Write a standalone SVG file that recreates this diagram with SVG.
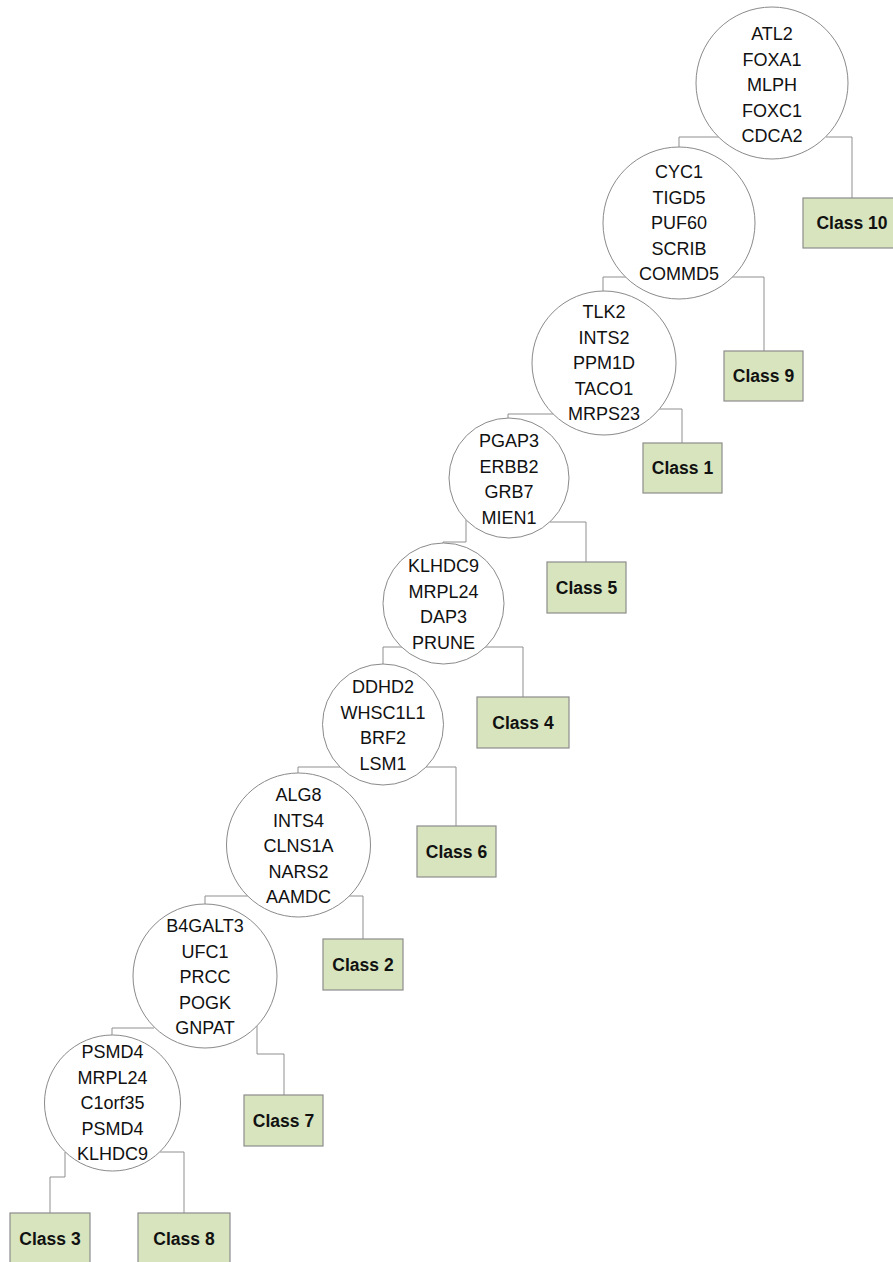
<svg xmlns="http://www.w3.org/2000/svg" width="893" height="1262" viewBox="0 0 893 1262">
  <style>
    .bg { fill: #ffffff; }
    .node circle { fill: #ffffff; stroke: #8a8a8a; stroke-width: 1; }
    .node text { font-family: "Liberation Sans", Arial, sans-serif; font-size: 18px; fill: #111111; text-anchor: middle; }
    .leaf rect { fill: #d7e4bd; stroke: #8c8c8c; stroke-width: 1.2; }
    .leaf text { font-family: "Liberation Sans", Arial, sans-serif; font-size: 17.5px; font-weight: bold; fill: #111111; text-anchor: middle; }
    #connectors path { fill: none; stroke: #8f8f8f; stroke-width: 1; }
  </style>

  <rect class="bg" x="0" y="0" width="893" height="1262"/>

  <!-- connectors: elbow lines from each split node to its children -->
  <g id="connectors">
    <path d="M719,137 H679 V147"/>
    <path d="M826,137 H852 V198"/>
    <path d="M626,277 H603 V291"/>
    <path d="M732,277 H764 V351"/>
    <path d="M553,414 H508 V418"/>
    <path d="M656,409 H682 V443"/>
    <path d="M466,520 V542 H443 V543"/>
    <path d="M550,522 H586 V562"/>
    <path d="M402,647 H383 V664"/>
    <path d="M485,647 H523 V697"/>
    <path d="M341,767 H298 V773"/>
    <path d="M426,767 H456 V826"/>
    <path d="M248,896 H205 V904"/>
    <path d="M349,896 H363 V939"/>
    <path d="M154,1028 H112 V1035"/>
    <path d="M257,1026 V1054 H284 V1095"/>
    <path d="M65,1152 V1177 H50 V1213"/>
    <path d="M160,1152 H184 V1213"/>
  </g>

  <!-- split nodes -->
  <g id="n1" class="node">
    <circle cx="772" cy="83" r="76"/>
    <text x="772" y="40">ATL2</text>
    <text x="772" y="65.5">FOXA1</text>
    <text x="772" y="91">MLPH</text>
    <text x="772" y="116.5">FOXC1</text>
    <text x="772" y="142">CDCA2</text>
  </g>
  <g id="n2" class="node">
    <circle cx="679" cy="223" r="76"/>
    <text x="679" y="178">CYC1</text>
    <text x="679" y="203.5">TIGD5</text>
    <text x="679" y="229">PUF60</text>
    <text x="679" y="254.5">SCRIB</text>
    <text x="679" y="280">COMMD5</text>
  </g>
  <g id="n3" class="node">
    <circle cx="604" cy="363" r="72"/>
    <text x="604" y="318">TLK2</text>
    <text x="604" y="343.5">INTS2</text>
    <text x="604" y="369">PPM1D</text>
    <text x="604" y="394.5">TACO1</text>
    <text x="604" y="420">MRPS23</text>
  </g>
  <g id="n4" class="node">
    <circle cx="509" cy="478" r="60"/>
    <text x="509" y="447">PGAP3</text>
    <text x="509" y="472.5">ERBB2</text>
    <text x="509" y="498">GRB7</text>
    <text x="509" y="523.5">MIEN1</text>
  </g>
  <g id="n5" class="node">
    <circle cx="443.5" cy="603.5" r="60.5"/>
    <text x="443.5" y="572">KLHDC9</text>
    <text x="443.5" y="597.5">MRPL24</text>
    <text x="443.5" y="623">DAP3</text>
    <text x="443.5" y="648.5">PRUNE</text>
  </g>
  <g id="n6" class="node">
    <circle cx="383" cy="724.5" r="60.5"/>
    <text x="383" y="693">DDHD2</text>
    <text x="383" y="718.5">WHSC1L1</text>
    <text x="383" y="744">BRF2</text>
    <text x="383" y="769.5">LSM1</text>
  </g>
  <g id="n7" class="node">
    <circle cx="298.5" cy="845" r="72"/>
    <text x="298.5" y="801">ALG8</text>
    <text x="298.5" y="826.5">INTS4</text>
    <text x="298.5" y="852">CLNS1A</text>
    <text x="298.5" y="877.5">NARS2</text>
    <text x="298.5" y="903">AAMDC</text>
  </g>
  <g id="n8" class="node">
    <circle cx="205" cy="976" r="72"/>
    <text x="205" y="932">B4GALT3</text>
    <text x="205" y="957.5">UFC1</text>
    <text x="205" y="983">PRCC</text>
    <text x="205" y="1008.5">POGK</text>
    <text x="205" y="1034">GNPAT</text>
  </g>
  <g id="n9" class="node">
    <circle cx="112.5" cy="1103" r="68"/>
    <text x="112.5" y="1058">PSMD4</text>
    <text x="112.5" y="1083.5">MRPL24</text>
    <text x="112.5" y="1109">C1orf35</text>
    <text x="112.5" y="1134.5">PSMD4</text>
    <text x="112.5" y="1160">KLHDC9</text>
  </g>

  <!-- class leaves -->
  <g id="class10" class="leaf">
    <rect x="803" y="198" width="98" height="50"/>
    <text x="852" y="229">Class 10</text>
  </g>
  <g id="class9" class="leaf">
    <rect x="724" y="351" width="79" height="50"/>
    <text x="763.5" y="382">Class 9</text>
  </g>
  <g id="class1" class="leaf">
    <rect x="643" y="443" width="79" height="50"/>
    <text x="682.5" y="474">Class 1</text>
  </g>
  <g id="class5" class="leaf">
    <rect x="547" y="562" width="79" height="51"/>
    <text x="586.5" y="593.5">Class 5</text>
  </g>
  <g id="class4" class="leaf">
    <rect x="477" y="697" width="92" height="51"/>
    <text x="523" y="728.5">Class 4</text>
  </g>
  <g id="class6" class="leaf">
    <rect x="417" y="826" width="79" height="51"/>
    <text x="456.5" y="857.5">Class 6</text>
  </g>
  <g id="class2" class="leaf">
    <rect x="323" y="939" width="80" height="51"/>
    <text x="363" y="970.5">Class 2</text>
  </g>
  <g id="class7" class="leaf">
    <rect x="244" y="1095" width="79" height="51"/>
    <text x="283.5" y="1126.5">Class 7</text>
  </g>
  <g id="class3" class="leaf">
    <rect x="10" y="1213" width="80" height="51"/>
    <text x="50" y="1244.5">Class 3</text>
  </g>
  <g id="class8" class="leaf">
    <rect x="138" y="1213" width="92" height="51"/>
    <text x="184" y="1244.5">Class 8</text>
  </g>
</svg>
